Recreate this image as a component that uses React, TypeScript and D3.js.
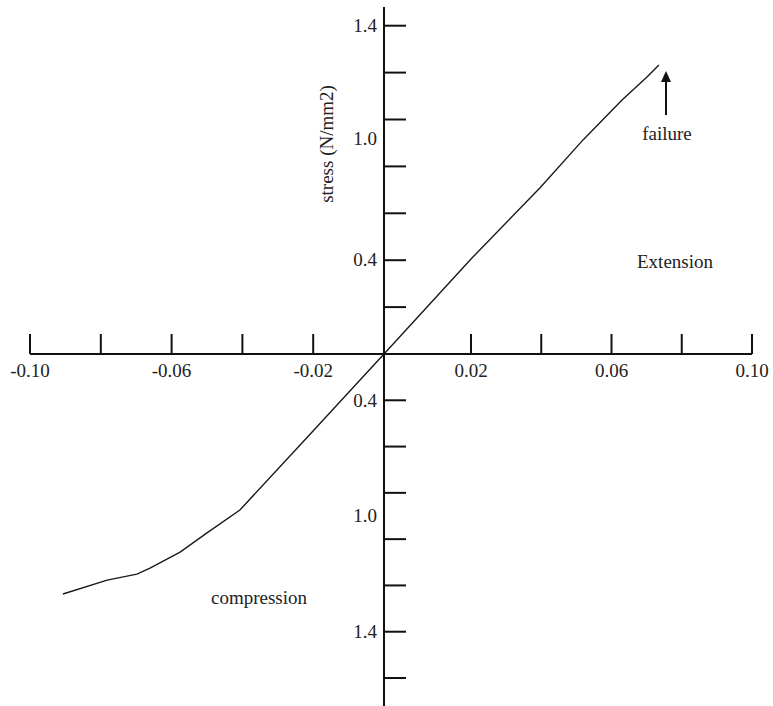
import React from "react";
import * as d3 from "d3";

// strain (x) and stress (y)
const strain = [-0.0907, -0.0782, -0.0698, -0.0661, -0.0576, -0.05, -0.0407, -0.0218, 0, 0.02, 0.0396, 0.0519, 0.063, 0.0701, 0.0735];
const stress = [-1.037, -0.977, -0.951, -0.925, -0.856, -0.773, -0.674, -0.362, 0, 0.405, 0.708, 0.913, 1.083, 1.181, 1.232];

const xTicks = [-0.1, -0.08, -0.06, -0.04, -0.02, 0.02, 0.04, 0.06, 0.08, 0.1];
const xLabelValues = [-0.1, -0.06, -0.02, 0.02, 0.06, 0.1];
const xLabelTexts = ["-0.10", "-0.06", "-0.02", "0.02", "0.06", "0.10"];

const yTicks = [-1.4, -1.2, -1.0, -0.8, -0.6, -0.4, -0.2, 0.2, 0.4, 0.6, 0.8, 1.0, 1.2, 1.4];
const yLabelValues = [1.4, 0.92, 0.4, -0.2, -0.7, -1.2];
const yLabelTexts = ["1.4", "1.0", "0.4", "0.4", "1.0", "1.4"];

const yAxisTop = 1.48;
const yAxisBottom = -1.65;

const W = 773;
const H = 706;
const FONT = "'Liberation Serif', 'Times New Roman', serif";

export default function App() {
  const x = d3.scaleLinear().domain([-0.1, 0, 0.02, 0.1]).range([30, 384, 471, 752]);
  const y = d3.scaleLinear().domain([-1.4, 0, 1.4]).range([678, 354, 25.7]);
  const pts = strain.map((s, i) => [s, stress[i]] as [number, number]);
  const line = d3.line<[number, number]>().x((d) => x(d[0])).y((d) => y(d[1]));
  const x0 = x(0);
  const y0 = y(0);

  return (
    <svg width={W} height={H} style={{ position: "absolute", left: 0, top: 0, background: "#fff" }} fontFamily={FONT}>
      <rect width={W} height={H} fill="#fff" />
      {/* x axis */}
      <line x1={x(-0.1)} x2={x(0.1)} y1={y0} y2={y0} stroke="#111" strokeWidth={2} />
      {xTicks.map((t) => (
        <line key={t} x1={x(t)} x2={x(t)} y1={y0} y2={y0 - 20} stroke="#111" strokeWidth={2} />
      ))}
      {xLabelValues.map((v, i) => (
        <text key={v} x={x(v)} y={y0 + 23} textAnchor="middle" fontSize={19} fill="#222">
          {xLabelTexts[i]}
        </text>
      ))}
      {/* y axis */}
      <line x1={x0} x2={x0} y1={y(yAxisTop)} y2={y(yAxisBottom)} stroke="#111" strokeWidth={2} />
      {yTicks.map((t) => (
        <line key={t} x1={x0} x2={x0 + 22} y1={y(t)} y2={y(t)} stroke="#111" strokeWidth={2} />
      ))}
      {yLabelValues.map((v, i) => (
        <text key={i} x={x0 - 7} y={y(v)} dy="0.33em" textAnchor="end" fontSize={19} fill="#222">
          {yLabelTexts[i]}
        </text>
      ))}
      <text transform={`translate(333,144) rotate(-90)`} textAnchor="middle" fontSize={19} fill="#222">
        stress (N/mm2)
      </text>
      {/* curve */}
      <path d={line(pts) || ""} fill="none" stroke="#1a1a1a" strokeWidth={1.4} />
      {/* failure arrow */}
      <line x1={666} x2={666} y1={115} y2={80} stroke="#111" strokeWidth={2} />
      <path d="M666,71 L661,82 L671,82 Z" fill="#111" />
      <text x={667} y={140} textAnchor="middle" fontSize={19} fill="#222">failure</text>
      <text x={675} y={268} textAnchor="middle" fontSize={19} fill="#222">Extension</text>
      <text x={259} y={604} textAnchor="middle" fontSize={19} fill="#222">compression</text>
    </svg>
  );
}
